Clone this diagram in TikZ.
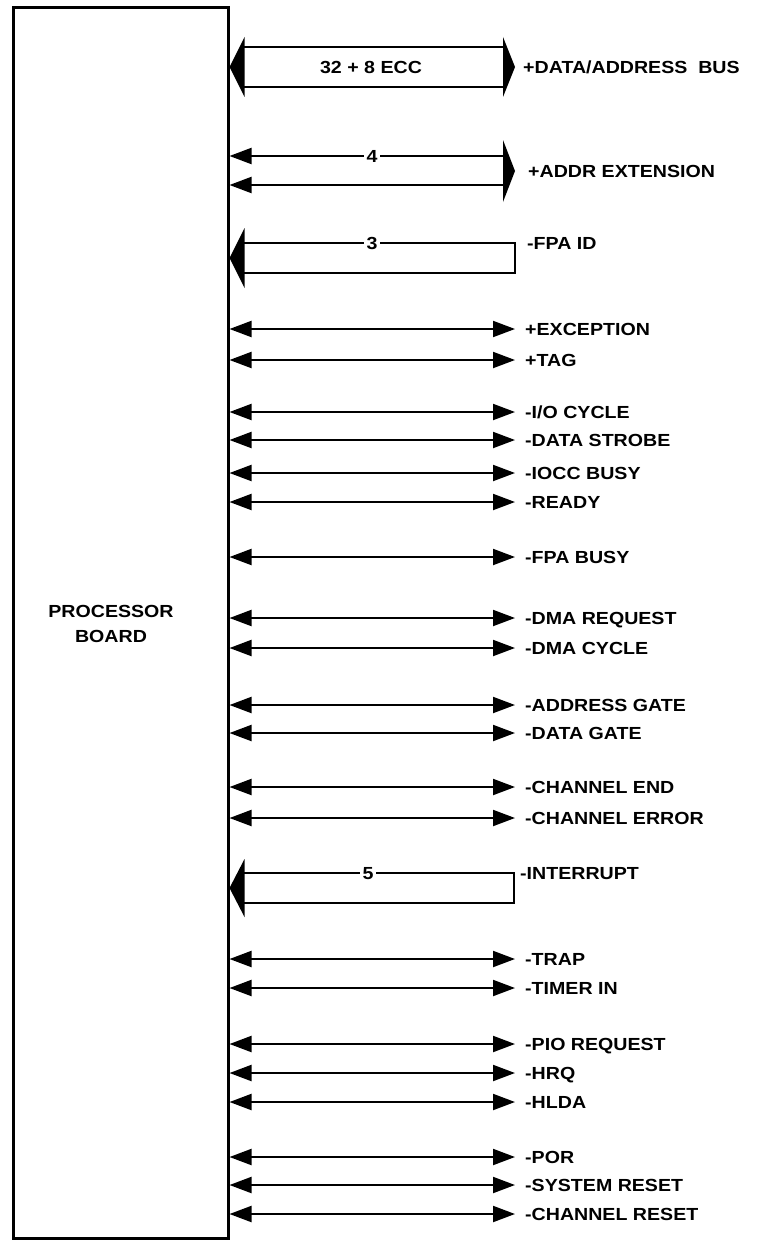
\documentclass[tikz,border=0pt]{standalone}
\usepackage{fontspec}
\setmainfont{Liberation Sans}[FakeStretch=1.12]
\usetikzlibrary{arrows.meta,calc}
\tikzset{
  lbl/.style={anchor=west,inner sep=0pt,text height=12.5pt,text depth=0pt,font=\bfseries\fontsize{17.5}{20}\selectfont},
  num/.style={fill=white,inner xsep=3pt,inner ysep=1pt,text height=12.5pt,text depth=0pt,font=\bfseries\fontsize{17.5}{20}\selectfont},
  sig/.style={line width=2pt,{Triangle[length=22pt,width=16pt]}-{Triangle[length=22pt,width=16pt]}},
  lsig/.style={line width=2pt,-{Triangle[length=22pt,width=16pt]}},
  busline/.style={line width=2.3pt},
}
\begin{document}
\begin{tikzpicture}[x=1pt,y=-1pt]
\useasboundingbox (0,0) rectangle (759,1244);
\node[draw,line width=3pt,minimum width=215pt,minimum height=1230pt,inner sep=0pt] (board) at (120.5,623) {};
\node[align=center,inner sep=0pt,font=\bfseries\fontsize{17.5}{25}\selectfont] (boardtxt) at (111,624) {PROCESSOR\\BOARD};

% data/address bus
\node[lbl] (bus) at (523,67) {+DATA/ADDRESS\ \ BUS};
\coordinate (bL) at (board.east |- bus.west);
\coordinate (bR) at ($(bus.west)+(-8,0)$);
\fill (bL) -- ($(bL)+(15,-30)$) -- ($(bL)+(15,30)$) -- cycle;
\fill (bR) -- ($(bR)+(-12,-30)$) -- ($(bR)+(-12,30)$) -- cycle;
\draw[busline] ($(bL)+(14,-20)$) -- ($(bR)+(-11,-20)$);
\draw[busline] ($(bL)+(14,20)$) -- ($(bR)+(-11,20)$);
\node[font=\bfseries\fontsize{17.5}{20}\selectfont,inner sep=0pt,text height=12.5pt,text depth=0pt] (ecc) at (371,67) {32 + 8 ECC};

% addr extension
\node[lbl] (ax) at (528,171) {+ADDR EXTENSION};
\coordinate (axR) at ($(ax.west)+(-13,0)$);
\coordinate (ax1) at ($(axR)+(-12,-15)$);
\coordinate (ax2) at ($(axR)+(-12,14)$);
\fill (axR) -- ($(axR)+(-12,-31)$) -- ($(axR)+(-12,31)$) -- cycle;
\draw[lsig] (ax1) -- (board.east |- ax1);
\draw[lsig] (ax2) -- (board.east |- ax2);
\node[num] (n4) at (372,156) {4};

% FPA ID
\node[lbl] (fpa) at (527,243) {-FPA ID};
\coordinate (fR) at ($(fpa.west)+(-12,0)$);
\coordinate (fL) at (board.east |- 0,258);
\fill (fL) -- ($(fL)+(15,-30)$) -- ($(fL)+(15,30)$) -- cycle;
\draw[busline] ($(fL)+(14,-15)$) -- (fR) -- ($(fR)+(0,30)$) -- ($(fL)+(14,15)$);
\node[num] (n3) at (372,243) {3};

% single signals
\foreach \y/\t [count=\n] in {329/{+EXCEPTION},360/{+TAG},412/{-I/O CYCLE},440/{-DATA STROBE},473/{-IOCC BUSY},502/{-READY},
  557/{-FPA BUSY},618/{-DMA REQUEST},648/{-DMA CYCLE},705/{-ADDRESS GATE},733/{-DATA GATE},787/{-CHANNEL END},818/{-CHANNEL ERROR},
  959/{-TRAP},988/{-TIMER IN},1044/{-PIO REQUEST},1073/{-HRQ},1102/{-HLDA},1157/{-POR},1185/{-SYSTEM RESET},1214/{-CHANNEL RESET}}{
  \node[lbl] (s\n) at (525,\y) {\t};
  \draw[sig] (board.east |- s\n.west) -- ($(s\n.west)+(-10,0)$);
}

% interrupt
\node[lbl] (intr) at (520,873) {-INTERRUPT};
\coordinate (iR) at ($(intr.west)+(-6,0)$);
\coordinate (iL) at (board.east |- 0,888);
\fill (iL) -- ($(iL)+(15,-29)$) -- ($(iL)+(15,29)$) -- cycle;
\draw[busline] ($(iL)+(14,-15)$) -- (iR) -- ($(iR)+(0,30)$) -- ($(iL)+(14,15)$);
\node[num] (n5) at (368,873) {5};
\end{tikzpicture}
\end{document}
